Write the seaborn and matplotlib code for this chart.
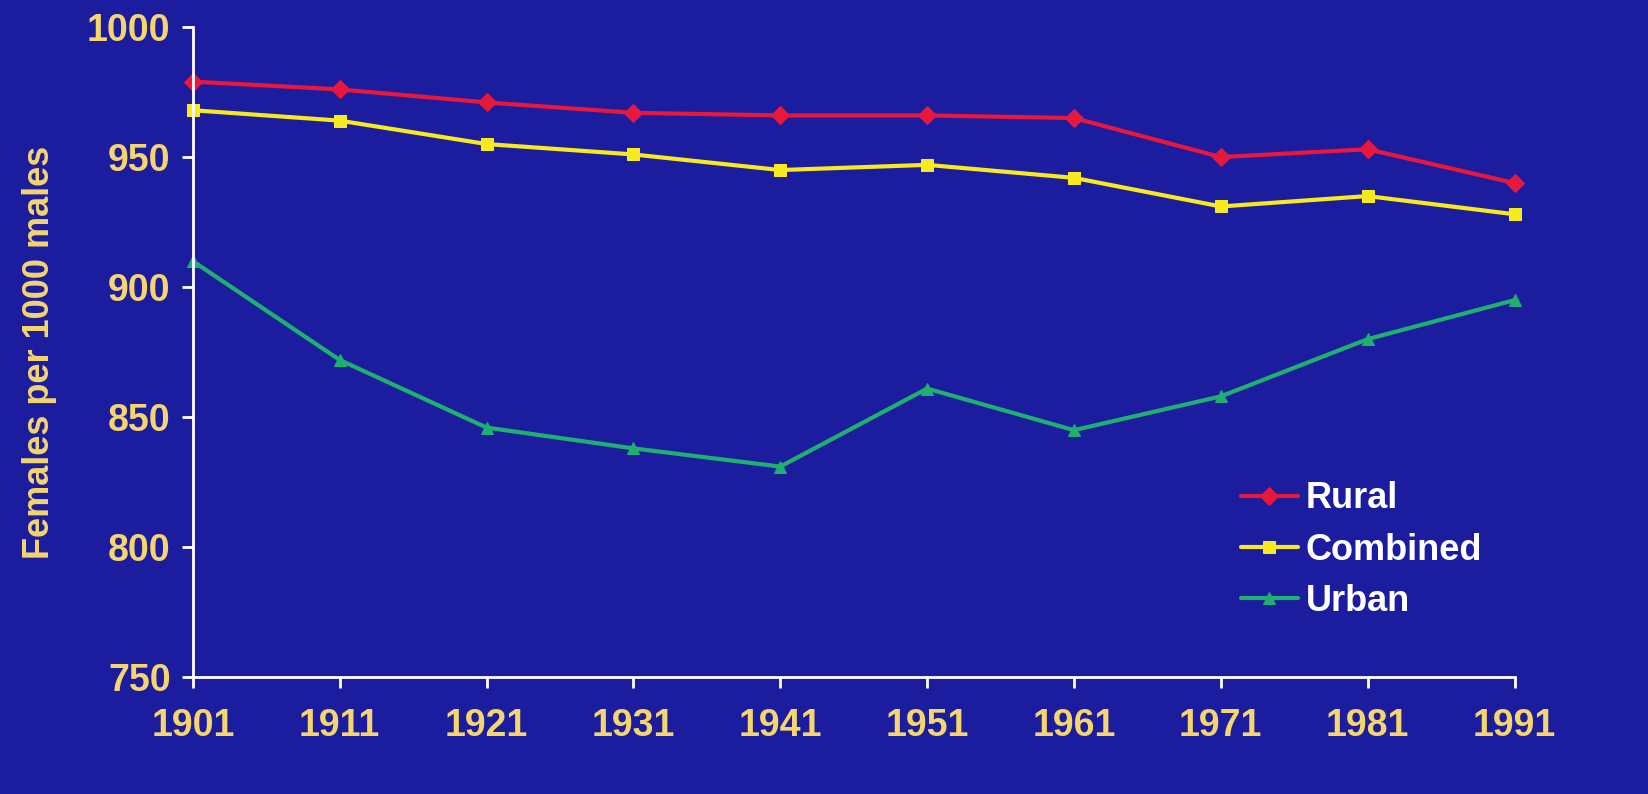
import matplotlib
matplotlib.use("Agg")
import matplotlib.pyplot as plt
import seaborn as sns
import pandas as pd

years = [1901, 1911, 1921, 1931, 1941, 1951, 1961, 1971, 1981, 1991]
rural = [979, 976, 971, 967, 966, 966, 965, 950, 953, 940]
combined = [968, 964, 955, 951, 945, 947, 942, 931, 935, 928]
urban = [910, 872, 846, 838, 831, 861, 845, 858, 880, 895]

df = pd.DataFrame({"Year": years * 3,
                   "Value": rural + combined + urban,
                   "Series": ["Rural"] * 10 + ["Combined"] * 10 + ["Urban"] * 10})

sns.set_style("white")
plt.rcParams['font.family'] = ['Liberation Sans', 'DejaVu Sans']
plt.rcParams['font.weight'] = 'bold'
bg = "#1c1c9e"
fig = plt.figure(figsize=(16.48, 7.94), dpi=100, facecolor=bg)
ax = fig.add_axes([0.117, 0.147, 0.802, 0.819])
ax.set_facecolor(bg)

palette = {"Rural": "#e8183c", "Combined": "#f7ea1e", "Urban": "#1fb070"}
markers = {"Rural": "D", "Combined": "s", "Urban": "^"}
sns.lineplot(data=df, x="Year", y="Value", hue="Series", style="Series",
             palette=palette, markers=markers, dashes=False, linewidth=3,
             markersize=9, ax=ax)
for line in ax.lines:
    line.set_markerfacecolor(line.get_color())
    line.set_markeredgecolor(line.get_color())
    line.set_clip_on(False)

ax.set_xlim(1901, 1991)
ax.set_ylim(750, 1000)
ax.set_xticks(years)
ax.set_yticks(range(750, 1001, 50))
tc = "#f5d56e"
ax.tick_params(axis='both', colors="white", labelcolor=tc, labelsize=27,
               direction='out', length=8, width=2, bottom=True, left=True)
ax.tick_params(axis='x', pad=14)
ax.tick_params(axis='y', pad=8)
for lab in ax.get_xticklabels() + ax.get_yticklabels():
    lab.set_fontweight('bold')
ax.set_xlabel("")
ax.set_ylabel("Females per 1000 males", color=tc, fontsize=26, fontweight='bold', labelpad=22)
for s in ["top", "right"]:
    ax.spines[s].set_visible(False)
for s in ["left", "bottom"]:
    ax.spines[s].set_color("white")
    ax.spines[s].set_linewidth(2)

leg = ax.legend(loc="lower right", bbox_to_anchor=(1.0, 0.04), frameon=False,
                prop={'size': 26, 'weight': 'bold'}, handlelength=1.6,
                handletextpad=0.2, labelspacing=0.45)
for t in leg.get_texts():
    t.set_color("white")

fig.savefig("out.png", dpi=100, facecolor=bg)
